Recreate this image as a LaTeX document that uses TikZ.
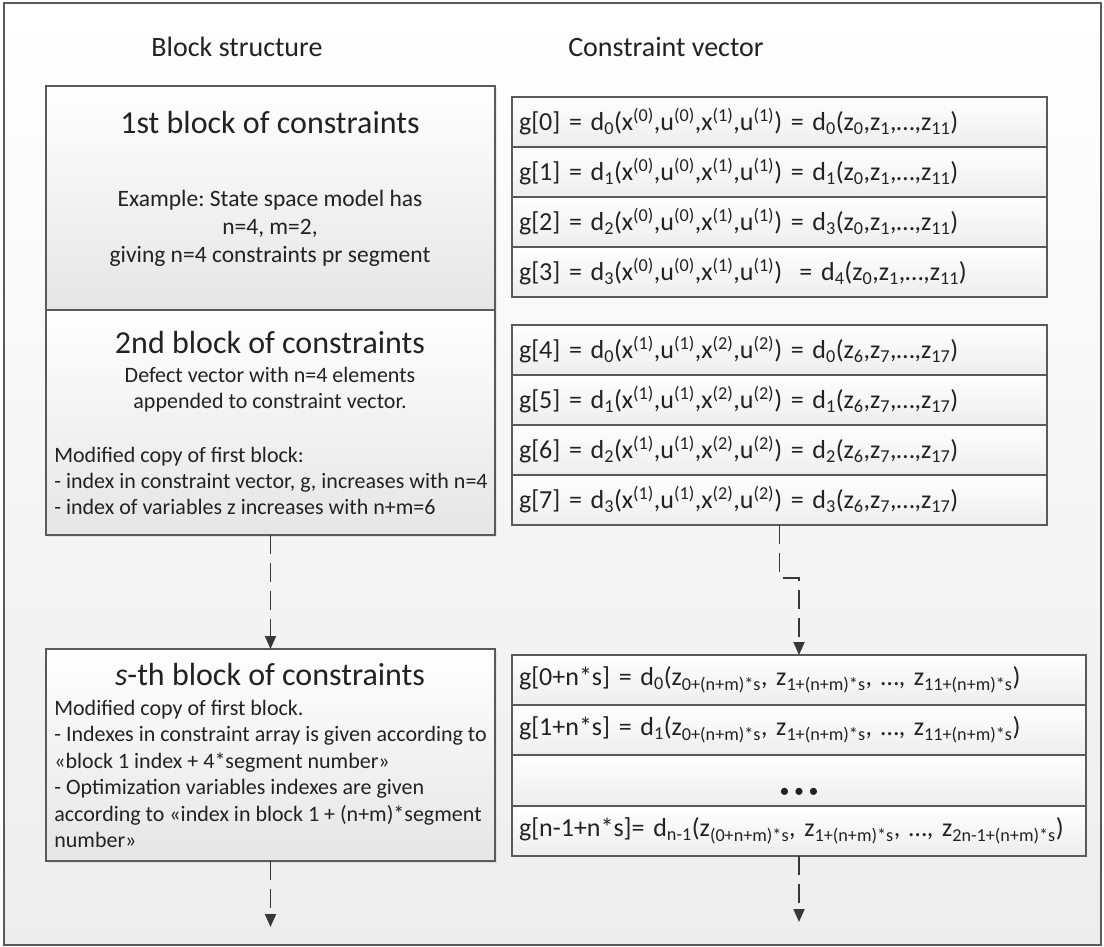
\documentclass[tikz,border=0pt]{standalone}
\usepackage{fontspec}
\setmainfont{Carlito}
\usetikzlibrary{arrows.meta,shadows}
\newcommand\sbs[1]{\textsubscript{#1}}
\newcommand\sps[1]{\textsuperscript{#1}}
\definecolor{edge}{HTML}{5A5A5A}
\definecolor{ink}{HTML}{222222}
\frenchspacing

\begin{document}
\begin{tikzpicture}[x=1pt,y=-1pt,
  every node/.style={text=ink, outer sep=0pt},
  headtext/.style={font=\fontsize{28}{34}\selectfont},
  titletext/.style={font=\fontsize{32}{36}\selectfont},
  bodytext/.style={font=\fontsize{23.5}{28}\selectfont},
  listtext/.style={font=\fontsize{22}{26.4}\selectfont, anchor=west, align=left},
  blockbox/.style={draw=edge, line width=1.6pt, top color=white, bottom color=black!10,
    anchor=north west, inner sep=0pt, minimum width=449pt,
    drop shadow={shadow xshift=2pt, shadow yshift=-2pt, opacity=0.15}},
  rowbox/.style={draw=edge, line width=1.6pt, top color=white, bottom color=black!7,
    anchor=north west, inner xsep=7pt, inner ysep=0pt, align=left,
    font=\fontsize{26}{30}\selectfont},
  rowa/.style={rowbox, text width=521pt, minimum height=50pt},
  rowb/.style={rowbox, text width=560pt, minimum height=50pt},
  flow/.style={draw=black!78, line width=1.8pt, dash pattern=on 19pt off 9pt,
    -{Triangle[length=13pt,width=11pt]}}
]
\useasboundingbox (0,0) rectangle (1104,947);

% outer frame
\shade[top color=white, bottom color=black!7] (4,3) rectangle (1101,945);
\draw[edge, line width=1.5pt] (4,3) rectangle (1101,945);

% column headings
\node[headtext] (h1) at (237,47) {Block structure};
\node[headtext] (h2) at (666,47) {Constraint vector};

% left column: blocks of constraints
\node[blockbox, minimum height=224pt] (b1) at (46,86) {};
\node[blockbox, minimum height=225pt] (b2) at (46,310) {};
\node[blockbox, minimum height=212pt] (b3) at (46,649) {};

\node[titletext] (t1) at (270,123) {1st block of constraints};
\node[bodytext, align=center] (e1) at (270,228)
  {Example: State space model has\\ n=4, m=2,\\ giving n=4 constraints pr segment};

\node[titletext] (t2) at (270,343) {2nd block of constraints};
\node[bodytext, align=center, font=\fontsize{22}{26}\selectfont] (e2) at (270,390)
  {Defect vector with n=4 elements\\ appended to constraint vector.};
\node[listtext] (l2) at (51,481)
  {Modified copy of first block:\\
   - index in constraint vector, g, increases with n=4\\
   - index of variables z increases with n+m=6};

\node[titletext] (t3) at (270,675) {\textit{s}-th block of constraints};
\node[listtext] (l3) at (51,774)
  {Modified copy of first block.\\
   - Indexes in constraint array is given according to\\
   «block 1 index + 4*segment number»\\
   - Optimization variables indexes are given\\
   according to «index in block 1 + (n+m)*segment\\
   number»};

% right column: constraint vector entries
\node[rowa] (r0) at (512,97)
  {g[0] = d\sbs{0}(x\sps{(0)},u\sps{(0)},x\sps{(1)},u\sps{(1)}) = d\sbs{0}(z\sbs{0},z\sbs{1},…,z\sbs{11})};
\node[rowa] (r1) at (512,147)
  {g[1] = d\sbs{1}(x\sps{(0)},u\sps{(0)},x\sps{(1)},u\sps{(1)}) = d\sbs{1}(z\sbs{0},z\sbs{1},…,z\sbs{11})};
\node[rowa] (r2) at (512,197)
  {g[2] = d\sbs{2}(x\sps{(0)},u\sps{(0)},x\sps{(1)},u\sps{(1)}) = d\sbs{3}(z\sbs{0},z\sbs{1},…,z\sbs{11})};
\node[rowa] (r3) at (512,247)
  {g[3] = d\sbs{3}(x\sps{(0)},u\sps{(0)},x\sps{(1)},u\sps{(1)}) ~= d\sbs{4}(z\sbs{0},z\sbs{1},…,z\sbs{11})};

\node[rowa] (r4) at (512,325)
  {g[4] = d\sbs{0}(x\sps{(1)},u\sps{(1)},x\sps{(2)},u\sps{(2)}) = d\sbs{0}(z\sbs{6},z\sbs{7},…,z\sbs{17})};
\node[rowa] (r5) at (512,375)
  {g[5] = d\sbs{1}(x\sps{(1)},u\sps{(1)},x\sps{(2)},u\sps{(2)}) = d\sbs{1}(z\sbs{6},z\sbs{7},…,z\sbs{17})};
\node[rowa] (r6) at (512,425)
  {g[6] = d\sbs{2}(x\sps{(1)},u\sps{(1)},x\sps{(2)},u\sps{(2)}) = d\sbs{2}(z\sbs{6},z\sbs{7},…,z\sbs{17})};
\node[rowa] (r7) at (512,475)
  {g[7] = d\sbs{3}(x\sps{(1)},u\sps{(1)},x\sps{(2)},u\sps{(2)}) = d\sbs{3}(z\sbs{6},z\sbs{7},…,z\sbs{17})};

\node[rowb] (s0) at (512,655)
  {g[0+n*s] = d\sbs{0}(z\sbs{0+(n+m)*s}, z\sbs{1+(n+m)*s}, …, z\sbs{11+(n+m)*s})};
\node[rowb] (s1) at (512,705)
  {g[1+n*s] = d\sbs{1}(z\sbs{0+(n+m)*s}, z\sbs{1+(n+m)*s}, …, z\sbs{11+(n+m)*s})};
\node[rowb, minimum height=51pt] (s2) at (512,755) {};
\node[rowb] (s3) at (512,806)
  {g[n-1+n*s]= d\sbs{n-1}(z\sbs{(0+n+m)*s}, z\sbs{1+(n+m)*s}, …, z\sbs{2n-1+(n+m)*s})};
\node[font=\fontsize{20}{20}\selectfont] (dots) at (799,793) {• • •};

% connectors
\coordinate (endL) at (270.5,927);
\coordinate (endR) at (799,922);
\draw[flow] (b2.south) -- (b3.north);
\draw[flow] (b3.south) -- (endL);
\draw[flow] (r7.south) -- ++(0,53) -| (s0.north);
\draw[flow] (s3.south) -- (endR);
\end{tikzpicture}
\end{document}
